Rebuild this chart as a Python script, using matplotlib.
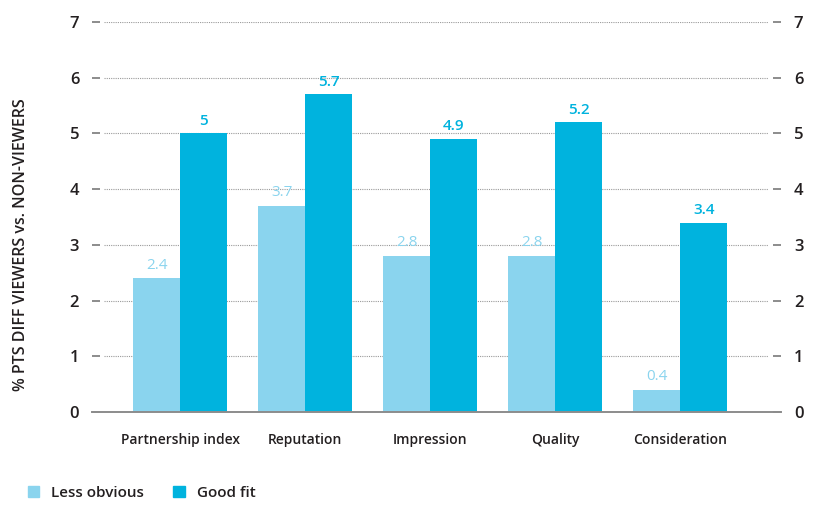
import matplotlib
matplotlib.use('Agg')
import matplotlib.pyplot as plt
from matplotlib.patches import Patch
import numpy as np

plt.rcParams['font.family'] = ['Open Sans', 'DejaVu Sans']

categories = ['Partnership index', 'Reputation', 'Impression', 'Quality', 'Consideration']
less_obvious = [2.4, 3.7, 2.8, 2.8, 0.4]
good_fit = [5.0, 5.7, 4.9, 5.2, 3.4]
yticks = [0, 1, 2, 3, 4, 5, 6, 7]

c_light = '#8ad4ee'
c_dark = '#00b3de'
c_text = '#231f20'
c_grid = '#9a9a9a'

fig = plt.figure(figsize=(8.25, 5.05), dpi=100)
ax = fig.add_axes([100 / 825, 1 - 412 / 505, 673 / 825, 390 / 505])

x = np.arange(len(categories))
w = 0.376
ax.bar(x - w / 2, less_obvious, w, color=c_light, zorder=2)
ax.bar(x + w / 2, good_fit, w, color=c_dark, zorder=2)

for xi, v in zip(x, less_obvious):
    ax.text(xi - w / 2, v + 0.1, f'{v:g}', ha='center', va='bottom',
            color=c_light, fontsize=11)
for xi, v in zip(x, good_fit):
    ax.text(xi + w / 2, v + 0.1, f'{v:g}', ha='center', va='bottom',
            color=c_dark, fontsize=11, fontweight='semibold')

# dotted grid, kept short of the tick dashes
for t in yticks[1:]:
    ax.axhline(t, xmin=0.006, xmax=0.992, color=c_grid, lw=0.8,
               ls=(0, (1, 1)), zorder=1)

ax.set_xlim(-0.64, 4.74)
ax.set_ylim(0, 7)
ax.set_yticks(yticks)
ax.tick_params(axis='y', which='both', left=True, right=True,
               labelleft=True, labelright=True, length=6, width=1.4,
               color='#8c8c8c', pad=9, labelsize=12, labelcolor=c_text)
ax.set_xticks(x)
ax.set_xticklabels(categories, fontweight='semibold')
ax.tick_params(axis='x', length=0, pad=15, labelsize=10, labelcolor=c_text)
for tk in ax.yaxis.get_major_ticks():
    tk.label1.set_fontweight('semibold')
    tk.label2.set_fontweight('semibold')

for s in ['top', 'left', 'right', 'bottom']:
    ax.spines[s].set_visible(False)
ax.plot([-0.012, 1.012], [0, 0], transform=ax.transAxes,
        color='#8c8c8c', lw=1.4, clip_on=False, zorder=3)

ax.set_ylabel('% PTS DIFF VIEWERS vs. NON-VIEWERS', fontsize=11.5,
              fontweight='semibold', color=c_text)
ax.yaxis.set_label_coords(-0.106, 0.43)

handles = [Patch(color=c_light, label='Less obvious'),
           Patch(color=c_dark, label='Good fit')]
leg = fig.legend(handles=handles, loc='center left',
                 bbox_to_anchor=(14 / 825, 1 - 493 / 505),
                 ncol=2, frameon=False, fontsize=11, handlelength=0.75,
                 handleheight=0.75, handletextpad=0.8, columnspacing=1.9,
                 labelcolor=c_text)
for t in leg.get_texts():
    t.set_fontweight('semibold')

fig.savefig('out.png', dpi=100)
